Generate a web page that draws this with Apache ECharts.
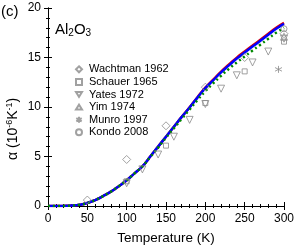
<!DOCTYPE html>
<html><head><meta charset="utf-8">
<script src="https://cdn.jsdelivr.net/npm/echarts@6/dist/echarts.min.js"></script>
<style>html,body{margin:0;padding:0;background:#fff}#c{width:300px;height:250px}</style>
</head><body><div id="c"></div>
<script>
// Model curves (T in K, alpha in 1e-6/K)
const curveT = [0,10,20,30,40,50,60,70,80,90,100,110,120,130,140,150,160,170,180,190,200,210,220,230,240,250,260,270,280,290,300];
const blueVals = [0,0,0.01,0.04,0.12,0.3,0.6,1.0,1.45,2.0,2.6,3.3,4.0,5.0,6.0,7.0,8.0,9.0,9.95,10.95,11.9,12.7,13.5,14.2,14.9,15.5,16.1,16.7,17.3,17.9,18.4];
const redVals  = [0,0,0.01,0.04,0.12,0.3,0.6,1.0,1.45,2.0,2.6,3.3,4.0,5.0,6.0,7.0,8.0,9.0,9.97,10.99,11.96,12.77,13.58,14.29,14.99,15.6,16.2,16.8,17.4,18.0,18.5];
const greenVals= [0,0,0.01,0.04,0.12,0.3,0.6,1.0,1.45,2.0,2.6,3.3,4.0,4.95,5.9,6.9,7.85,8.8,9.75,10.7,11.6,12.4,13.15,13.85,14.5,15.1,15.7,16.3,16.9,17.5,18.0];
// Experimental data
const wachtmanT = [50,100,150,200,250,300];
const wachtmanV = [0.6,4.7,8.1,12.0,15.0,17.4];
const schauerT = [100,150,200,250,300];
const schauerV = [2.5,6.1,10.4,13.6,16.6];
const yatesT = [100,120,140,160,180,200,220,240,260,280,300];
const yatesV = [2.3,3.7,5.2,7.0,8.7,10.3,11.85,13.2,14.5,15.6,16.9];
const yimT = [300];
const yimV = [17.1];
const munroT = [293];
const munroV = [13.8];
const kondoT = [300];
const kondoV = [17.9];
const xTicks = [0,50,100,150,200,250,300];
const yTicks = [0,5,10,15,20];

const zip = (a,b)=>a.map((v,i)=>[v,b[i]]);
const grey = '#8a8a8a';
const font = 'Liberation Sans, Arial, sans-serif';
const triDown = 'path://M-5,-4L5,-4L0,4Z';
const triUp = 'path://M-5,4L5,4L0,-4Z';
const star = 'path://M0,-5L0,5M-4.5,-2.6L4.5,2.6M-4.5,2.6L4.5,-2.6';

function sc(name, T, V, symbol, size){
  return {type:'scatter', name, data: zip(T,V), symbol, symbolSize:size, z:5,
    itemStyle:{color:'rgba(0,0,0,0)', borderColor:grey, borderWidth:1}};
}
const chart = echarts.init(document.getElementById('c'), null, {renderer:'canvas'});
const axLine = {show:true, lineStyle:{color:'#000', width:1}};
chart.setOption({
  animation:false,
  grid:{left:48, right:16, top:8, bottom:39},
  xAxis:[{type:'value', min:0, max:300, interval:50, axisLine:axLine,
    axisTick:{inside:true, length:4, lineStyle:{color:'#000'}},
    minorTick:{show:true, splitNumber:5, length:2, lineStyle:{color:'#000'}},
    axisLabel:{color:'#000', fontSize:12, fontFamily:font, margin:7, formatter:v=>xTicks.includes(v)?String(v):''},
    splitLine:{show:false},
    name:'Temperature (K)', nameLocation:'middle', nameGap:25, nameTextStyle:{color:'#000', fontSize:13.5, fontFamily:font}},
   {type:'value', position:'top', min:0, max:300, interval:50, axisLine:axLine,
    axisTick:{inside:true, length:4, lineStyle:{color:'#000'}},
    minorTick:{show:true, splitNumber:5, length:2, lineStyle:{color:'#000'}},
    axisLabel:{show:false}, splitLine:{show:false}}],
  yAxis:[{type:'value', min:0, max:20, interval:5, axisLine:axLine,
    axisTick:{inside:true, length:4, lineStyle:{color:'#000'}},
    minorTick:{show:true, splitNumber:5, length:2, lineStyle:{color:'#000'}},
    axisLabel:{color:'#000', fontSize:12, fontFamily:font, margin:7, formatter:v=>yTicks.includes(v)?String(v):''},
    splitLine:{show:false}},
   {type:'value', position:'right', min:0, max:20, interval:5, axisLine:axLine,
    axisTick:{inside:true, length:4, lineStyle:{color:'#000'}},
    minorTick:{show:true, splitNumber:5, length:2, lineStyle:{color:'#000'}},
    axisLabel:{show:false}, splitLine:{show:false}}],
  legend:{orient:'vertical', left:75, top:63, itemGap:0, itemWidth:6, itemHeight:6, padding:0,
    textStyle:{color:'#000', fontSize:11, lineHeight:12.6, fontFamily:font, padding:[0,0,0,2]},
    data:['Wachtman 1962','Schauer 1965','Yates 1972','Yim 1974','Munro 1997','Kondo 2008']},
  graphic:[
    {type:'text', left:1, top:4, style:{text:'(c)', font:'15px '+font, fill:'#000'}},
    {type:'text', left:55, top:22, style:{text:'{b|Al}{s|2}{b|O}{s|3}', fill:'#000',
      rich:{b:{fontSize:15, fontFamily:font, fill:'#000'}, s:{fontSize:10, fontFamily:font, fill:'#000', verticalAlign:'bottom', padding:[8,0,0,0]}}}},
    {type:'text', x:5, y:160, rotation:Math.PI/2, style:{text:'{b|α (10}{p|-6}{b|K}{p|-1}{b|)}', fill:'#000',
      rich:{b:{fontSize:14, fontFamily:font, fill:'#000'}, p:{fontSize:9, fontFamily:font, fill:'#000', verticalAlign:'top', padding:[0,0,8,0]}}}}
  ],
  series:[
    sc('Wachtman 1962', wachtmanT, wachtmanV, 'diamond', 8),
    sc('Schauer 1965', schauerT, schauerV, 'rect', 5),
    sc('Yates 1972', yatesT, yatesV, triDown, 7),
    sc('Yim 1974', yimT, yimV, triUp, 7),
    sc('Munro 1997', munroT, munroV, star, 7),
    sc('Kondo 2008', kondoT, kondoV, 'circle', 6),
    {type:'line', data:zip(curveT, redVals), symbol:'none', smooth:true, lineStyle:{color:'#e00000', width:2.5}, z:3},
    {type:'line', data:zip(curveT, blueVals), symbol:'none', smooth:true, lineStyle:{color:'#0000ff', width:2.5}, z:4},
    {type:'line', data:zip(curveT, greenVals), symbol:'none', smooth:true, lineStyle:{color:'#008800', width:2.5, type:[2,3]}, z:4}
  ]
});
</script></body></html>
